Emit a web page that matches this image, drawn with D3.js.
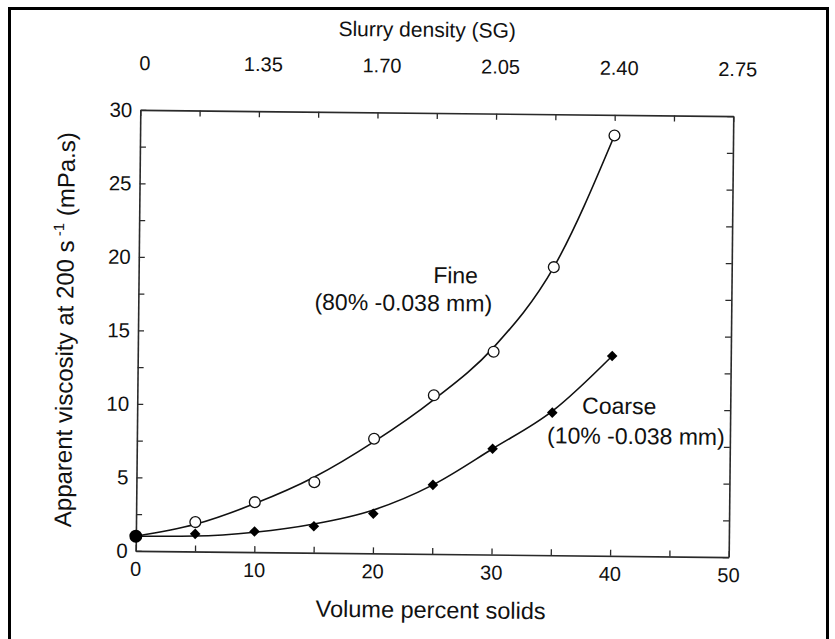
<!DOCTYPE html>
<html>
<head>
<meta charset="utf-8">
<script src="https://cdn.jsdelivr.net/npm/d3@7/dist/d3.min.js"></script>
<style>
  html, body { margin: 0; padding: 0; background: #fff; }
  svg { display: block; }
  text { font-family: "Liberation Sans", Arial, Helvetica, sans-serif; fill: #111; }
</style>
</head>
<body>
<script>
// Volume percent solids (bottom axis) and the measured apparent viscosities
const solids = [5, 10, 15, 20, 25, 30, 35, 40];
const fineViscosity = [2.0, 3.4, 4.8, 7.8, 10.8, 13.8, 19.6, 28.6];
const coarseViscosity = [1.2, 1.4, 1.8, 2.7, 4.7, 7.2, 9.7, 13.6];

// Water only (0 % solids), shared by both slurries
const originSolids = 0;
const originViscosity = 1.0;

// Fitted trend curves, sampled along the volume fraction
const fitSolids = [0, 5, 10, 15, 20, 25, 30, 35, 40];
const fineFit = [1.0, 1.85, 3.3, 5.15, 7.6, 10.5, 14.1, 19.6, 28.6];
const coarseFit = [1.0, 1.05, 1.35, 1.95, 2.95, 4.7, 7.2, 9.8, 13.6];

// Axis ticks
const xTicks = [0, 10, 20, 30, 40, 50];
const xMinorTicks = [0, 5, 10, 15, 20, 25, 30, 35, 40, 45, 50];
const yTicks = [0, 5, 10, 15, 20, 25, 30];
const yMinorTicks = [0, 2.5, 5, 7.5, 10, 12.5, 15, 17.5, 20, 22.5, 25, 27.5, 30];
// Slurry density (SG) printed above the volume-fraction positions 0..50
const sgPositions = [0, 10, 20, 30, 40, 50];
const sgLabels = ["0", "1.35", "1.70", "2.05", "2.40", "2.75"];

const W = 835, H = 639;
const svg = d3.select("body").append("svg").attr("width", W).attr("height", H);

// Outer frame
svg.append("rect")
  .attr("x", 9.5).attr("y", 8.5).attr("width", 818).attr("height", 700)
  .attr("fill", "none").attr("stroke", "#000").attr("stroke-width", 3);

const plotLeft = 138, plotRight = 731, plotTop = 113, plotBottom = 554;
const x = d3.scaleLinear().domain([0, 50]).range([plotLeft, plotRight]);
const y = d3.scaleLinear().domain([0, 30]).range([plotBottom, plotTop]);

// The printed figure sits very slightly tilted on the page
const g = svg.append("g")
  .attr("transform", `rotate(0.6, ${(plotLeft + plotRight) / 2}, ${(plotTop + plotBottom) / 2})`);

const axisColor = "#2a2a2a";
const tickLen = 6;

// Frame axes with inward-pointing ticks
g.append("g").attr("transform", `translate(0,${plotBottom})`)
  .call(d3.axisBottom(x).tickValues(xMinorTicks).tickSizeInner(-tickLen).tickSizeOuter(0).tickFormat(""));
g.append("g").attr("transform", `translate(0,${plotTop})`)
  .call(d3.axisTop(x).tickValues(xMinorTicks).tickSizeInner(-tickLen).tickSizeOuter(0).tickFormat(""));
g.append("g").attr("transform", `translate(${plotLeft},0)`)
  .call(d3.axisLeft(y).tickValues(yMinorTicks).tickSizeInner(-tickLen).tickSizeOuter(0).tickFormat(""));
g.append("g").attr("transform", `translate(${plotRight},0)`)
  .call(d3.axisRight(y).tickValues(yMinorTicks).tickSizeInner(-tickLen).tickSizeOuter(0).tickFormat(""));

g.selectAll(".domain").attr("stroke", axisColor).attr("stroke-width", 1.6);
g.selectAll(".tick line").attr("stroke", axisColor).attr("stroke-width", 1.3);

// Tick labels
g.selectAll("text.xlab").data(xTicks).join("text")
  .attr("class", "xlab")
  .attr("x", d => x(d)).attr("y", plotBottom + 25)
  .attr("text-anchor", "middle").attr("font-size", 20)
  .text(d => d);

g.selectAll("text.ylab").data(yTicks).join("text")
  .attr("class", "ylab")
  .attr("x", plotLeft - 8).attr("y", d => y(d)).attr("dy", "0.35em")
  .attr("text-anchor", "end").attr("font-size", 20.5)
  .text(d => d);

g.selectAll("text.sglab").data(sgPositions).join("text")
  .attr("class", "sglab")
  .attr("x", d => x(d) + 4).attr("y", 73)
  .attr("text-anchor", "middle").attr("font-size", 20)
  .text((d, i) => sgLabels[i]);

// Axis titles
g.append("text")
  .attr("x", 424).attr("y", 37)
  .attr("text-anchor", "middle").attr("font-size", 21)
  .text("Slurry density (SG)");

g.append("text")
  .attr("x", (plotLeft + plotRight) / 2 - 1).attr("y", 618)
  .attr("text-anchor", "middle").attr("font-size", 23.5)
  .text("Volume percent solids");

const yTitle = g.append("text")
  .attr("transform", `translate(73, ${(plotTop + plotBottom) / 2}) rotate(-90)`)
  .attr("text-anchor", "middle").attr("font-size", 24);
yTitle.append("tspan").text("Apparent viscosity at 200 s");
yTitle.append("tspan").attr("font-size", 15).attr("dy", -10).text(" -1");
yTitle.append("tspan").attr("dy", 10).text(" (mPa.s)");

// Fitted curves
const line = d3.line()
  .x((d, i) => x(fitSolids[i]))
  .y(d => y(d))
  .curve(d3.curveMonotoneX);

g.append("path").datum(fineFit)
  .attr("d", line).attr("fill", "none").attr("stroke", "#111").attr("stroke-width", 1.6);
g.append("path").datum(coarseFit)
  .attr("d", line).attr("fill", "none").attr("stroke", "#111").attr("stroke-width", 1.6);

// Fine slurry: open circles
g.selectAll("circle.fine").data(fineViscosity).join("circle")
  .attr("class", "fine")
  .attr("cx", (d, i) => x(solids[i])).attr("cy", d => y(d))
  .attr("r", 5.4)
  .attr("fill", "#fff").attr("stroke", "#111").attr("stroke-width", 1.3);

// Coarse slurry: filled diamonds
g.selectAll("path.coarse").data(coarseViscosity).join("path")
  .attr("class", "coarse")
  .attr("transform", (d, i) => `translate(${x(solids[i])},${y(d)}) rotate(45)`)
  .attr("d", d3.symbol().type(d3.symbolSquare).size(56))
  .attr("fill", "#000");

// Shared origin point
g.append("circle")
  .attr("cx", x(originSolids)).attr("cy", y(originViscosity))
  .attr("r", 6.5).attr("fill", "#000");

// Series annotations
g.append("text").attr("x", 455).attr("y", 283)
  .attr("text-anchor", "middle").attr("font-size", 23).text("Fine");
g.append("text").attr("x", 403).attr("y", 311)
  .attr("text-anchor", "middle").attr("font-size", 23).text("(80% -0.038 mm)");
g.append("text").attr("x", 620).attr("y", 412)
  .attr("text-anchor", "middle").attr("font-size", 23).text("Coarse");
g.append("text").attr("x", 637).attr("y", 442)
  .attr("text-anchor", "middle").attr("font-size", 23).text("(10% -0.038 mm)");
</script>
</body>
</html>
